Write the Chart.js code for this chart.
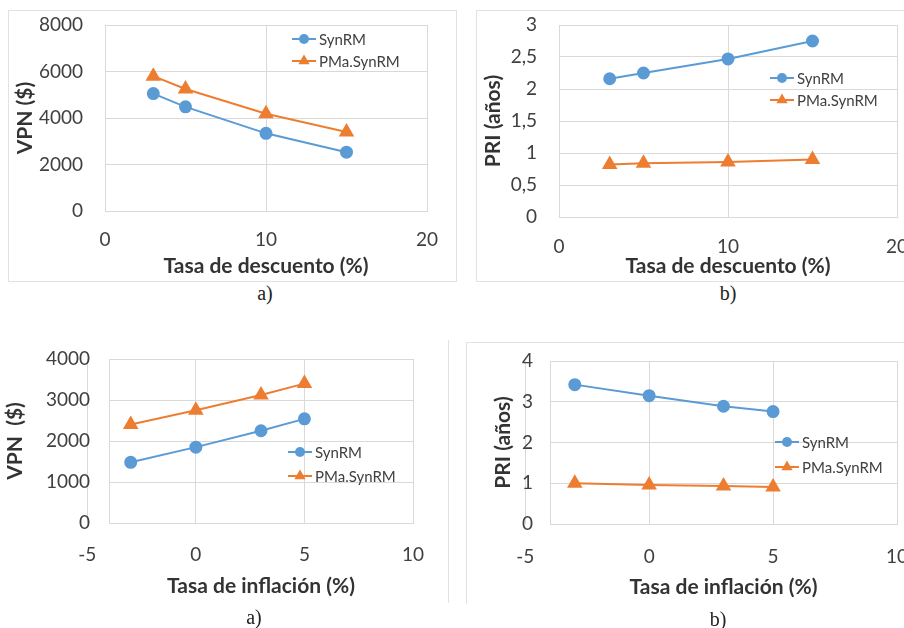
<!DOCTYPE html>
<html>
<head>
<meta charset="utf-8">
<script src="https://cdn.jsdelivr.net/npm/chart.js@4/dist/chart.umd.min.js"></script>
<style>
  html, body { margin:0; padding:0; background:#fff; width:904px; height:628px; overflow:hidden; position:relative; }
  canvas { position:absolute; }
  .frame { position:absolute; border-color:#e2e2e2; border-style:solid; border-width:0; }
  .cap { position:absolute; font-family:"Liberation Serif", serif; font-size:20px; color:#222; background:#fff; padding:0 4px; transform:translate(-50%,-50%); line-height:22px; }
</style>
</head>
<body>
<div class="frame" style="left:8px;top:10px;width:447px;height:270px;border-width:1px;"></div>
<div class="frame" style="left:476px;top:10px;width:440px;height:270px;border-width:1px 0 1px 1px;"></div>
<div class="frame" style="left:448px;top:340px;width:0;height:263px;border-width:0 0 0 1px;"></div>
<div class="frame" style="left:466px;top:342px;width:450px;height:261px;border-width:1px 0 0 1px;"></div>

<canvas id="c1" width="440" height="270" style="left:8px;top:10px;"></canvas>
<canvas id="c2" width="444" height="270" style="left:476px;top:10px;"></canvas>
<canvas id="c3" width="448" height="275" style="left:0px;top:335px;"></canvas>
<canvas id="c4" width="460" height="262" style="left:466px;top:342px;"></canvas>

<div class="cap" style="left:265px;top:293px;">a)</div>
<div class="cap" style="left:728px;top:293px;">b)</div>
<div class="cap" style="left:254px;top:617px;">a)</div>
<div class="cap" style="left:718px;top:619px;">b)</div>

<script>
// ---- data ----
const seriesNames = ['SynRM', 'PMa.SynRM'];

const discountRates = [3, 5, 10, 15];
const vpnDiscSyn = [5050, 4480, 3340, 2530];
const vpnDiscPMa = [5800, 5250, 4180, 3400];
const priDiscSyn = [2.16, 2.25, 2.47, 2.75];
const priDiscPMa = [0.82, 0.84, 0.86, 0.90];

const inflationRates = [-3, 0, 3, 5];
const vpnInflSyn = [1480, 1850, 2250, 2540];
const vpnInflPMa = [2400, 2750, 3120, 3400];
const priInflSyn = [3.42, 3.15, 2.89, 2.76];
const priInflPMa = [1.00, 0.96, 0.93, 0.91];

const discountTicks = [0, 10, 20];
const inflationTicks = [-5, 0, 5, 10];

const xTitleDesc = 'Tasa de descuento (%)';
const xTitleInfl = 'Tasa de inflación (%)';
const yTitleVPN = 'VPN ($)';
const yTitleVPN2 = 'VPN  ($)';
const yTitlePRI = 'PRI (años)';

// ---- styling ----
const BLUE = '#5B9BD5', ORANGE = '#ED7D31', GRID = '#D9D9D9';
const TXT = '#404040', TITLE = '#333333';
const FONT = 'Lato';
const TITLE_SIZE = 21;
const TITLE_LH = TITLE_SIZE * 1.2 / 2;

const miniLegend = {
  id: 'miniLegend',
  afterDraw(chart, args, opts) {
    const ctx = chart.ctx;
    ctx.save();
    chart.data.datasets.forEach((ds, i) => {
      const x = opts.x, y = opts.y + i * opts.gap;
      ctx.strokeStyle = ds.borderColor;
      ctx.fillStyle = ds.borderColor;
      ctx.lineWidth = 2;
      ctx.beginPath(); ctx.moveTo(x, y); ctx.lineTo(x + 24, y); ctx.stroke();
      const cx = x + 12;
      ctx.beginPath();
      if (ds.pointStyle === 'triangle') {
        const r = 6.5;
        ctx.moveTo(cx, y - r);
        ctx.lineTo(cx + r * Math.sin(2 * Math.PI / 3), y - r * Math.cos(2 * Math.PI / 3));
        ctx.lineTo(cx + r * Math.sin(4 * Math.PI / 3), y - r * Math.cos(4 * Math.PI / 3));
        ctx.closePath();
      } else {
        ctx.arc(cx, y, 5, 0, Math.PI * 2);
      }
      ctx.fill();
      ctx.fillStyle = TXT;
      ctx.font = '15px ' + FONT;
      ctx.textBaseline = 'middle';
      ctx.textAlign = 'left';
      ctx.fillText(ds.label, x + 27, y + 1);
    });
    ctx.restore();
  }
};

function pts(xs, ys) { return xs.map((x, i) => ({ x: x, y: ys[i] })); }

function makeChart(id, o) {
  const canvas = document.getElementById(id);
  const H = canvas.height;
  return new Chart(canvas, {
    type: 'line',
    data: {
      datasets: [
        { label: seriesNames[0], data: pts(o.xs, o.y1), borderColor: BLUE, backgroundColor: BLUE,
          pointBackgroundColor: BLUE, pointBorderColor: BLUE, pointStyle: 'circle', pointRadius: 5.5,
          borderWidth: 2, tension: 0 },
        { label: seriesNames[1], data: pts(o.xs, o.y2), borderColor: ORANGE, backgroundColor: ORANGE,
          pointBackgroundColor: ORANGE, pointBorderColor: ORANGE, pointStyle: 'triangle', pointRadius: 7,
          borderWidth: 2, tension: 0 }
      ]
    },
    options: {
      responsive: false,
      animation: false,
      devicePixelRatio: 1,
      layout: { padding: { left: 0, top: o.caTop, right: o.padR, bottom: 0 } },
      plugins: {
        legend: { display: false },
        tooltip: { enabled: false },
        miniLegend: o.legend
      },
      scales: {
        x: {
          type: 'linear',
          min: o.xMin, max: o.xMax,
          afterBuildTicks: s => { s.ticks = o.xTicks.map(v => ({ value: v })); },
          afterFit: s => { s.height = H - o.caBottom; s.paddingLeft = 0; s.paddingRight = 0; },
          grid: { color: GRID, drawTicks: false, lineWidth: 1 },
          border: { color: GRID, width: 1 },
          ticks: { padding: o.xTickPad, color: TXT, font: { family: FONT, size: 19 }, autoSkip: false, maxRotation: 0,
                   callback: v => String(v) },
          title: { display: true, text: o.xTitle, color: TITLE, font: { family: FONT, size: TITLE_SIZE, weight: 'bold' },
                   padding: { top: 0, bottom: Math.max(0, H - o.xTitleY - TITLE_LH) } }
        },
        y: {
          min: o.yMin, max: o.yMax,
          afterFit: s => { s.width = o.caLeft; s.paddingTop = 0; s.paddingBottom = 0; },
          grid: { color: GRID, drawTicks: false, lineWidth: 1 },
          border: { color: GRID, width: 1 },
          ticks: { stepSize: o.yStep, padding: o.yTickPad, color: TXT, font: { family: FONT, size: 19 },
                   callback: v => String(v).replace('.', ',') },
          title: { display: true, text: o.yTitle, color: TITLE, font: { family: FONT, size: TITLE_SIZE, weight: 'bold' },
                   padding: { top: Math.max(0, o.yTitleX - TITLE_LH), bottom: 0 } }
        }
      }
    },
    plugins: [miniLegend]
  });
}

function build() {
  makeChart('c1', {
    xs: discountRates, y1: vpnDiscSyn, y2: vpnDiscPMa,
    xMin: 0, xMax: 20, xTicks: discountTicks, yMin: 0, yMax: 8000, yStep: 2000,
    xTitle: xTitleDesc, yTitle: yTitleVPN,
    caLeft: 97, caTop: 15, padR: 21, caBottom: 201,
    xTickPad: 17, yTickPad: 22, xTitleY: 256, yTitleX: 17,
    legend: { x: 284, y: 29, gap: 22 }
  });
  makeChart('c2', {
    xs: discountRates, y1: priDiscSyn, y2: priDiscPMa,
    xMin: 0, xMax: 20, xTicks: discountTicks, yMin: 0, yMax: 3, yStep: 0.5,
    xTitle: xTitleDesc, yTitle: yTitlePRI,
    caLeft: 83, caTop: 15, padR: 23, caBottom: 207,
    xTickPad: 18, yTickPad: 22, xTitleY: 256, yTitleX: 17,
    legend: { x: 294, y: 68, gap: 22 }
  });
  makeChart('c3', {
    xs: inflationRates, y1: vpnInflSyn, y2: vpnInflPMa,
    xMin: -4, xMax: 10, xTicks: inflationTicks, yMin: 0, yMax: 4000, yStep: 1000,
    xTitle: xTitleInfl, yTitle: yTitleVPN2,
    caLeft: 109, caTop: 24, padR: 35, caBottom: 188,
    xTickPad: 20, yTickPad: 19, xTitleY: 251, yTitleX: 15,
    legend: { x: 288, y: 117, gap: 24 }
  });
  makeChart('c4', {
    xs: inflationRates, y1: priInflSyn, y2: priInflPMa,
    xMin: -4, xMax: 10, xTicks: inflationTicks, yMin: 0, yMax: 4, yStep: 1,
    xTitle: xTitleInfl, yTitle: yTitlePRI,
    caLeft: 84, caTop: 19, padR: 29, caBottom: 182,
    xTickPad: 21, yTickPad: 17, xTitleY: 245, yTitleX: 37,
    legend: { x: 309, y: 100, gap: 25 }
  });
}
if (document.fonts && document.fonts.load) {
  Promise.all([document.fonts.load('19px Lato'), document.fonts.load('bold 21px Lato'), document.fonts.load('15px Lato')]).then(build, build);
} else { build(); }
</script>
</body>
</html>
